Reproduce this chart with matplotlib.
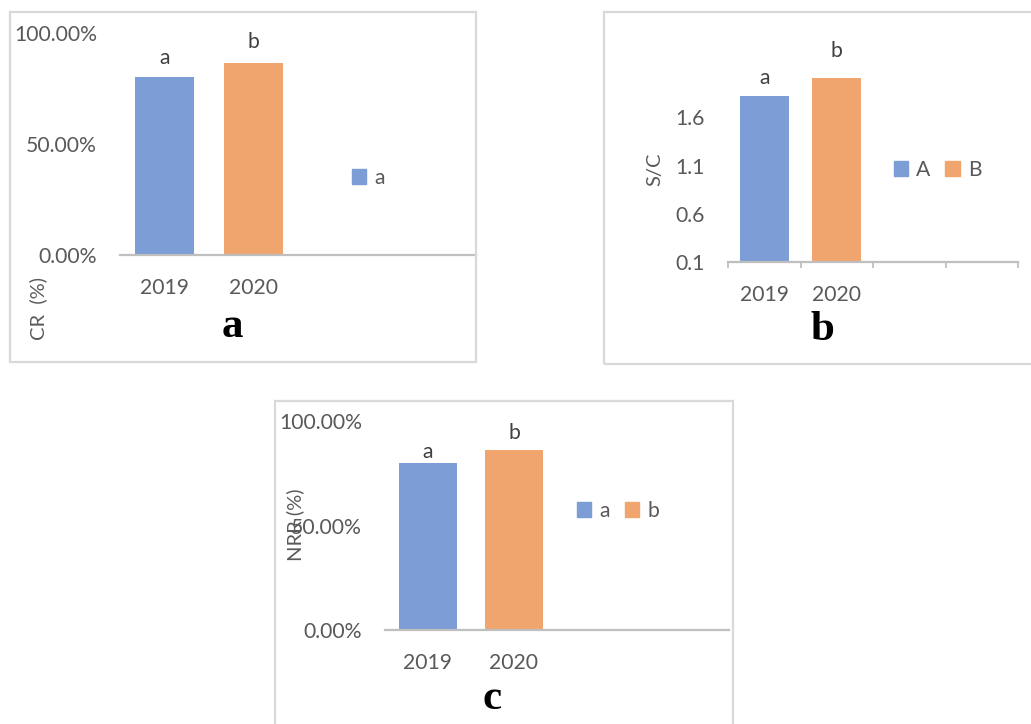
import matplotlib
matplotlib.use("Agg")
import matplotlib.pyplot as plt
from matplotlib.patches import Rectangle, Patch
from matplotlib.ticker import PercentFormatter

# Data for the three panels
years = ["2019", "2020"]
cr_values = [0.802, 0.865]        # CR (%), panel a
sc_values = [1.82, 2.01]          # S/C ratio, panel b
nrr_values = [0.799, 0.861]       # NRR (%), panel c
sig_letters = ["a", "b"]

legend_a = ["a"]
legend_b = ["A", "B"]
legend_c = ["a", "b"]

W, H = 1031, 724
BLUE = "#7C9DD5"
ORANGE = "#F0A56F"
GRAY_TXT = "#595959"
DARK_TXT = "#404040"
LINE = "#BFBFBF"
BORDER = "#D9D9D9"
FS = 15.2

plt.rcParams["font.family"] = ["Lato", "DejaVu Sans"]

fig = plt.figure(figsize=(W / 100, H / 100), dpi=100)


def px_rect(x0, y0, x1, y1):
    return [x0 / W, 1 - y1 / H, (x1 - x0) / W, (y1 - y0) / H]


def px_pt(x, y):
    return (x / W, 1 - y / H)


def frame(x0, y0, x1, y1):
    fig.patches.append(Rectangle((x0 / W, 1 - y1 / H), (x1 - x0) / W, (y1 - y0) / H,
                                 transform=fig.transFigure, fill=False,
                                 edgecolor=BORDER, linewidth=1.6, zorder=0))


def panel(rect, values, ylim, yticks, yfmt, offsets, ypad, minor_ticks=False):
    ax = fig.add_axes(px_rect(*rect))
    colors = [BLUE, ORANGE]
    for i, v in enumerate(values):
        ax.bar(i, v, width=0.67, color=colors[i], zorder=2)
        ax.annotate(sig_letters[i], (i, v), xytext=(0, offsets[i]),
                    textcoords="offset points", ha="center", va="center",
                    fontsize=FS, color=DARK_TXT)
    ax.set_xlim(-0.5, 3.5)
    ax.set_ylim(*ylim)
    ax.set_yticks(yticks)
    if yfmt is not None:
        ax.yaxis.set_major_formatter(yfmt)
    ax.set_xticks(range(len(years)))
    ax.set_xticklabels(years)
    for s in ["top", "right", "left"]:
        ax.spines[s].set_visible(False)
    ax.spines["bottom"].set_color(LINE)
    ax.spines["bottom"].set_linewidth(1.6)
    ax.tick_params(axis="y", length=0, pad=ypad, labelsize=FS, labelcolor=GRAY_TXT)
    ax.tick_params(axis="x", which="major", length=0, pad=16.5, labelsize=FS,
                   labelcolor=GRAY_TXT)
    if minor_ticks:
        ax.set_xticks([-0.5, 0.5, 1.5, 2.5, 3.5], minor=True)
        ax.tick_params(axis="x", which="minor", length=4.5, width=1.3, color=LINE,
                       direction="out")
    ax.patch.set_alpha(0)
    return ax


def legend(ax, labels, x, y):
    handles = [Patch(color=c) for c in [BLUE, ORANGE][:len(labels)]]
    fig.legend(handles, labels, loc="center left", bbox_to_anchor=px_pt(x, y),
               bbox_transform=fig.transFigure, ncol=len(labels), frameon=False,
               fontsize=FS, handlelength=0.68, handleheight=0.68,
               handletextpad=0.4, columnspacing=0.7, borderpad=0,
               labelcolor=GRAY_TXT)


# Panel a
frame(10, 12, 476, 362)
ax_a = panel((120, 33, 476, 255), cr_values, (0, 1), [0, 0.5, 1.0],
             PercentFormatter(1.0, decimals=2), [14, 15], 16.5)
legend(ax_a, legend_a, 341, 178)
fig.text(*px_pt(38, 308), "CR  (%)", rotation=90, ha="center", va="center",
         fontsize=14.5, color=GRAY_TXT)
fig.text(*px_pt(232, 327), "a", ha="center", va="center", fontsize=31,
         fontweight="bold", family="Liberation Serif", color="black")

# Panel b
frame(604, 12, 1040, 364)
ax_b = panel((728, 69, 1018, 262), sc_values, (0.1, 2.1), [0.1, 0.6, 1.1, 1.6],
             None, [13, 19.5], 17, minor_ticks=True)
ax_b.set_yticklabels(["0.1", "0.6", "1.1", "1.6"])
legend(ax_b, legend_b, 883, 170)
fig.text(*px_pt(655, 169), "S/C", rotation=90, ha="center", va="center",
         fontsize=14.5, color=GRAY_TXT)
fig.text(*px_pt(822, 330), "b", ha="center", va="center", fontsize=31,
         fontweight="bold", family="Liberation Serif", color="black")

# Panel c
frame(275, 401, 733, 740)
ax_c = panel((385, 421, 729, 630), nrr_values, (0, 1), [0, 0.5, 1.0],
             PercentFormatter(1.0, decimals=2), [8, 12], 16.5)
legend(ax_c, legend_c, 566, 511)
fig.text(*px_pt(295, 525), "NRR (%)", rotation=90, ha="center", va="center",
         fontsize=14.5, color=GRAY_TXT)
fig.text(*px_pt(492, 699), "c", ha="center", va="center", fontsize=31,
         fontweight="bold", family="Liberation Serif", color="black")

fig.savefig("out.png", dpi=100)
